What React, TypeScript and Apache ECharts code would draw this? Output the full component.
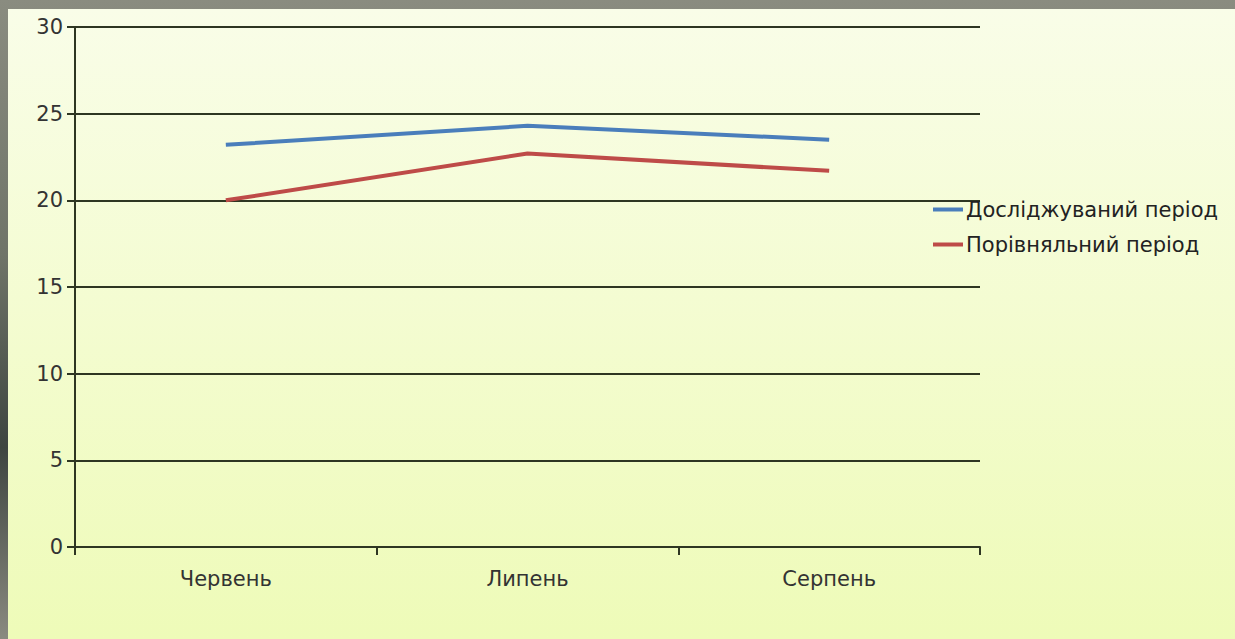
import React, { useEffect, useRef } from "react";
import * as echarts from "echarts";

const categories = ["Червень", "Липень", "Серпень"];
const studied = [23.2, 24.3, 23.5];
const compared = [20.0, 22.7, 21.7];
const seriesNames = ["Досліджуваний період", "Порівняльний період"];

export default function App() {
  const ref = useRef<HTMLDivElement>(null);
  useEffect(() => {
    if (!ref.current) return;
    const chart = echarts.init(ref.current, undefined, { renderer: "svg" });
    const axisColor = "#2e3622";
    const font = "DejaVu Sans";
    chart.setOption({
      animation: false,
      backgroundColor: {
        type: "linear", x: 0, y: 0, x2: 0, y2: 1,
        colorStops: [
          { offset: 0, color: "#f9fde8" },
          { offset: 1, color: "#eefbb8" },
        ],
      },
      grid: { left: 67, top: 18, width: 905, height: 520, containLabel: false },
      legend: {
        orient: "vertical",
        left: 920,
        top: 185,
        itemWidth: 30,
        itemHeight: 4,
        itemGap: 14,
        icon: "rect",
        textStyle: { fontFamily: font, fontSize: 21, color: "#222", padding: [0, 0, 0, -2] },
        data: seriesNames,
      },
      xAxis: {
        type: "category",
        data: categories,
        boundaryGap: true,
        axisLine: { lineStyle: { color: axisColor, width: 2 } },
        axisTick: { show: true, length: 8, inside: false, lineStyle: { color: axisColor, width: 2 } },
        axisLabel: { margin: 21, fontFamily: font, fontSize: 21, color: "#333" },
        splitLine: { show: false },
      },
      yAxis: {
        type: "value",
        min: 0,
        max: 30,
        interval: 5,
        axisLine: { show: true, lineStyle: { color: axisColor, width: 2 } },
        axisTick: { show: true, length: 8, lineStyle: { color: axisColor, width: 2 } },
        axisLabel: { margin: 12, fontFamily: font, fontSize: 21, color: "#333" },
        splitLine: { show: true, lineStyle: { color: axisColor, width: 2 } },
      },
      series: [
        {
          name: seriesNames[0],
          type: "line",
          data: studied,
          symbol: "none",
          lineStyle: { color: "#4a7ebb", width: 4 },
          itemStyle: { color: "#4a7ebb" },
        },
        {
          name: seriesNames[1],
          type: "line",
          data: compared,
          symbol: "none",
          lineStyle: { color: "#be4b48", width: 4 },
          itemStyle: { color: "#be4b48" },
        },
      ],
    });
    return () => chart.dispose();
  }, []);
  return (
    <div
      style={{
        position: "fixed",
        left: 0,
        top: 0,
        width: 1235,
        height: 639,
        background: "linear-gradient(180deg, #8a8c80 0%, #6f7468 40%, #3e4540 70%, #8a8a80 100%)",
      }}
    >
      <div ref={ref} style={{ position: "absolute", left: 8, top: 9, width: 1227, height: 630 }} />
    </div>
  );
}
